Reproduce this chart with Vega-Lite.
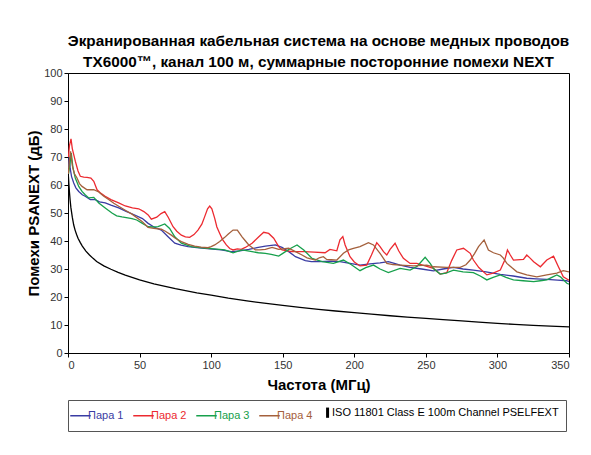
{
  "$schema": "https://vega.github.io/schema/vega-lite/v6.json",
  "width": 501,
  "height": 280,
  "autosize": {"type": "none"},
  "padding": {"left": 68, "top": 73, "right": 22, "bottom": 102},
  "background": "#ffffff",
  "title": {
    "text": ["Экранированная кабельная система на основе медных проводов", "TX6000™, канал 100 м, суммарные посторонние помехи NEXT"],
    "fontSize": 15.3, "fontWeight": "bold", "font": "Liberation Sans", "lineHeight": 21, "offset": -3, "anchor": "middle", "color": "#000"
  },
  "config": {
    "view": {"stroke": "#000", "strokeWidth": 1},
    "font": "Liberation Sans",
    "axis": {"grid": false, "tickSize": 4, "labelFontSize": 11, "labelColor": "#333", "domainColor": "#000", "tickColor": "#000", "titleFontSize": 15, "titleFontWeight": "bold", "titleColor": "#000", "labelFont": "Liberation Sans", "titleFont": "Liberation Sans"}
  },
  "data": {"values": [
    {"s":"Пара 1","f":0.3,"v":66},{"s":"Пара 1","f":0.8,"v":70},{"s":"Пара 1","f":1.5,"v":66},{"s":"Пара 1","f":2.5,"v":63},{"s":"Пара 1","f":4,"v":60.7},{"s":"Пара 1","f":5.5,"v":59},{"s":"Пара 1","f":7.5,"v":57.7},{"s":"Пара 1","f":10,"v":56.5},{"s":"Пара 1","f":12,"v":56},{"s":"Пара 1","f":15.6,"v":54.8},{"s":"Пара 1","f":19,"v":54.8},{"s":"Пара 1","f":22,"v":54},{"s":"Пара 1","f":26,"v":53.6},{"s":"Пара 1","f":30,"v":52.8},{"s":"Пара 1","f":35.4,"v":51.8},{"s":"Пара 1","f":41,"v":50.5},{"s":"Пара 1","f":47,"v":49.2},{"s":"Пара 1","f":52,"v":48},{"s":"Пара 1","f":56,"v":46.3},{"s":"Пара 1","f":60,"v":45},{"s":"Пара 1","f":65.2,"v":43.9},{"s":"Пара 1","f":69.9,"v":41.5},{"s":"Пара 1","f":74.6,"v":39.2},{"s":"Пара 1","f":79,"v":38.5},{"s":"Пара 1","f":83.9,"v":38},{"s":"Пара 1","f":90,"v":37.6},{"s":"Пара 1","f":95.5,"v":37.4},{"s":"Пара 1","f":101,"v":37.1},{"s":"Пара 1","f":107,"v":36.8},{"s":"Пара 1","f":114,"v":36.2},{"s":"Пара 1","f":120,"v":36.5},{"s":"Пара 1","f":126.3,"v":37},{"s":"Пара 1","f":132,"v":37.6},{"s":"Пара 1","f":137.9,"v":38.2},{"s":"Пара 1","f":144.9,"v":38.6},{"s":"Пара 1","f":149.5,"v":37.7},{"s":"Пара 1","f":154.2,"v":36.2},{"s":"Пара 1","f":158.9,"v":34.4},{"s":"Пара 1","f":165.8,"v":33},{"s":"Пара 1","f":170,"v":32.6},{"s":"Пара 1","f":176,"v":32.6},{"s":"Пара 1","f":183,"v":32.8},{"s":"Пара 1","f":190,"v":32.6},{"s":"Пара 1","f":197,"v":32},{"s":"Пара 1","f":204,"v":31.4},{"s":"Пара 1","f":211,"v":31.8},{"s":"Пара 1","f":218,"v":32.2},{"s":"Пара 1","f":223.8,"v":32.6},{"s":"Пара 1","f":228,"v":32},{"s":"Пара 1","f":232,"v":31.4},{"s":"Пара 1","f":239,"v":30.6},{"s":"Пара 1","f":247,"v":30},{"s":"Пара 1","f":255.3,"v":29.3},{"s":"Пара 1","f":262,"v":30},{"s":"Пара 1","f":269.3,"v":30.6},{"s":"Пара 1","f":276,"v":30},{"s":"Пара 1","f":283.2,"v":29.6},{"s":"Пара 1","f":292,"v":29},{"s":"Пара 1","f":302,"v":28.1},{"s":"Пара 1","f":311,"v":27.5},{"s":"Пара 1","f":320.5,"v":26.7},{"s":"Пара 1","f":327,"v":26.5},{"s":"Пара 1","f":334.5,"v":26.3},{"s":"Пара 1","f":342,"v":26},{"s":"Пара 1","f":348.5,"v":25.8},{"s":"Пара 1","f":350,"v":25.5},

    {"s":"Пара 2","f":0.3,"v":70},{"s":"Пара 2","f":1,"v":74},{"s":"Пара 2","f":2.1,"v":76.5},{"s":"Пара 2","f":3,"v":73},{"s":"Пара 2","f":5.1,"v":68.5},{"s":"Пара 2","f":7,"v":65},{"s":"Пара 2","f":8.6,"v":63.1},{"s":"Пара 2","f":11,"v":62.8},{"s":"Пара 2","f":13.3,"v":62.7},{"s":"Пара 2","f":16,"v":62.5},{"s":"Пара 2","f":18,"v":61.3},{"s":"Пара 2","f":20.3,"v":58.3},{"s":"Пара 2","f":23,"v":57},{"s":"Пара 2","f":26,"v":56},{"s":"Пара 2","f":30,"v":54.8},{"s":"Пара 2","f":35.4,"v":53.6},{"s":"Пара 2","f":40,"v":52.5},{"s":"Пара 2","f":45,"v":51.8},{"s":"Пара 2","f":49.4,"v":51.5},{"s":"Пара 2","f":53,"v":50.5},{"s":"Пара 2","f":56,"v":49.3},{"s":"Пара 2","f":58.2,"v":47.8},{"s":"Пара 2","f":62,"v":48.5},{"s":"Пара 2","f":65,"v":49.8},{"s":"Пара 2","f":67.6,"v":50.5},{"s":"Пара 2","f":70,"v":48.5},{"s":"Пара 2","f":73.4,"v":45.1},{"s":"Пара 2","f":76,"v":43.5},{"s":"Пара 2","f":79.2,"v":42.1},{"s":"Пара 2","f":82,"v":41.5},{"s":"Пара 2","f":85,"v":41.3},{"s":"Пара 2","f":88,"v":42.3},{"s":"Пара 2","f":90.8,"v":43.9},{"s":"Пара 2","f":93.5,"v":46},{"s":"Пара 2","f":95.5,"v":48.7},{"s":"Пара 2","f":97.5,"v":51.5},{"s":"Пара 2","f":99,"v":52.5},{"s":"Пара 2","f":100.5,"v":51.5},{"s":"Пара 2","f":102.5,"v":48.1},{"s":"Пара 2","f":104,"v":45},{"s":"Пара 2","f":106,"v":42.7},{"s":"Пара 2","f":108,"v":40.5},{"s":"Пара 2","f":110.6,"v":38.6},{"s":"Пара 2","f":113,"v":37.3},{"s":"Пара 2","f":115.3,"v":36.8},{"s":"Пара 2","f":118.3,"v":37.2},{"s":"Пара 2","f":121,"v":37},{"s":"Пара 2","f":123.9,"v":37.7},{"s":"Пара 2","f":128.6,"v":39.2},{"s":"Пара 2","f":133.3,"v":41.5},{"s":"Пара 2","f":136.7,"v":43.1},{"s":"Пара 2","f":140.2,"v":42.7},{"s":"Пара 2","f":143.7,"v":41},{"s":"Пара 2","f":147.2,"v":38},{"s":"Пара 2","f":149.5,"v":36.8},{"s":"Пара 2","f":156.5,"v":36.2},{"s":"Пара 2","f":165,"v":36.2},{"s":"Пара 2","f":172,"v":36},{"s":"Пара 2","f":179.6,"v":35.8},{"s":"Пара 2","f":183,"v":37},{"s":"Пара 2","f":187.8,"v":36.5},{"s":"Пара 2","f":190,"v":40.4},{"s":"Пара 2","f":192,"v":41.6},{"s":"Пара 2","f":193.6,"v":38.6},{"s":"Пара 2","f":197,"v":34.4},{"s":"Пара 2","f":200,"v":32.5},{"s":"Пара 2","f":204,"v":31.1},{"s":"Пара 2","f":208.7,"v":31.4},{"s":"Пара 2","f":212,"v":35},{"s":"Пара 2","f":215.7,"v":39.4},{"s":"Пара 2","f":218,"v":38},{"s":"Пара 2","f":220.4,"v":36.2},{"s":"Пара 2","f":222.7,"v":35},{"s":"Пара 2","f":225,"v":37},{"s":"Пара 2","f":228.5,"v":39.2},{"s":"Пара 2","f":231,"v":36.5},{"s":"Пара 2","f":234.3,"v":33.8},{"s":"Пара 2","f":239,"v":32},{"s":"Пара 2","f":243.7,"v":32},{"s":"Пара 2","f":249.5,"v":31.1},{"s":"Пара 2","f":255.3,"v":30.2},{"s":"Пара 2","f":260,"v":28.2},{"s":"Пара 2","f":264.6,"v":28.7},{"s":"Пара 2","f":268,"v":33},{"s":"Пара 2","f":271.6,"v":36.8},{"s":"Пара 2","f":276.3,"v":37.4},{"s":"Пара 2","f":281,"v":35.6},{"s":"Пара 2","f":283.2,"v":33.2},{"s":"Пара 2","f":287,"v":30.5},{"s":"Пара 2","f":292.6,"v":27.9},{"s":"Пара 2","f":297,"v":28.5},{"s":"Пара 2","f":302,"v":29.6},{"s":"Пара 2","f":305,"v":33},{"s":"Пара 2","f":307,"v":36.8},{"s":"Пара 2","f":309,"v":35},{"s":"Пара 2","f":311.2,"v":33.2},{"s":"Пара 2","f":318.2,"v":33.4},{"s":"Пара 2","f":320.5,"v":35},{"s":"Пара 2","f":323,"v":33.8},{"s":"Пара 2","f":325.3,"v":32.6},{"s":"Пара 2","f":330,"v":30.8},{"s":"Пара 2","f":334.5,"v":33.2},{"s":"Пара 2","f":339.2,"v":34.6},{"s":"Пара 2","f":342.6,"v":30.8},{"s":"Пара 2","f":346,"v":27.2},{"s":"Пара 2","f":350,"v":26},

    {"s":"Пара 3","f":0.3,"v":64},{"s":"Пара 3","f":1,"v":66},{"s":"Пара 3","f":2.3,"v":71.4},{"s":"Пара 3","f":3.5,"v":66},{"s":"Пара 3","f":5.1,"v":62.5},{"s":"Пара 3","f":7.5,"v":59.5},{"s":"Пара 3","f":9.8,"v":57.7},{"s":"Пара 3","f":12,"v":56.5},{"s":"Пара 3","f":14.5,"v":55.4},{"s":"Пара 3","f":18,"v":55.6},{"s":"Пара 3","f":21.5,"v":53.6},{"s":"Пара 3","f":26,"v":51.8},{"s":"Пара 3","f":30.7,"v":50},{"s":"Пара 3","f":34,"v":49},{"s":"Пара 3","f":37.7,"v":48.6},{"s":"Пара 3","f":44.7,"v":48},{"s":"Пара 3","f":48,"v":47.5},{"s":"Пара 3","f":51.7,"v":46.4},{"s":"Пара 3","f":55.9,"v":45.1},{"s":"Пара 3","f":59,"v":45},{"s":"Пара 3","f":62.9,"v":45.1},{"s":"Пара 3","f":67.6,"v":46.1},{"s":"Пара 3","f":71,"v":44.5},{"s":"Пара 3","f":74.6,"v":41.5},{"s":"Пара 3","f":79.2,"v":39.2},{"s":"Пара 3","f":86.2,"v":38},{"s":"Пара 3","f":92,"v":37.6},{"s":"Пара 3","f":97.8,"v":37.4},{"s":"Пара 3","f":104,"v":37.1},{"s":"Пара 3","f":109.5,"v":36.8},{"s":"Пара 3","f":115.3,"v":35.8},{"s":"Пара 3","f":121.6,"v":36.8},{"s":"Пара 3","f":128.6,"v":36.2},{"s":"Пара 3","f":133,"v":35.8},{"s":"Пара 3","f":137.9,"v":35.6},{"s":"Пара 3","f":142,"v":35.2},{"s":"Пара 3","f":147.2,"v":34.6},{"s":"Пара 3","f":151.9,"v":36.2},{"s":"Пара 3","f":156,"v":37.5},{"s":"Пара 3","f":160,"v":38.6},{"s":"Пара 3","f":164.7,"v":36.8},{"s":"Пара 3","f":170.5,"v":33.8},{"s":"Пара 3","f":177.5,"v":32.6},{"s":"Пара 3","f":185.4,"v":32},{"s":"Пара 3","f":192.4,"v":33.2},{"s":"Пара 3","f":198,"v":31.5},{"s":"Пара 3","f":204,"v":29.4},{"s":"Пара 3","f":208,"v":30.5},{"s":"Пара 3","f":213.4,"v":31.4},{"s":"Пара 3","f":218,"v":30},{"s":"Пара 3","f":223.8,"v":28.7},{"s":"Пара 3","f":232,"v":30.2},{"s":"Пара 3","f":239,"v":29.6},{"s":"Пара 3","f":244,"v":31},{"s":"Пара 3","f":249.5,"v":34.2},{"s":"Пара 3","f":253,"v":32},{"s":"Пара 3","f":255.3,"v":30.2},{"s":"Пара 3","f":260,"v":28.2},{"s":"Пара 3","f":264,"v":28.5},{"s":"Пара 3","f":269.3,"v":29.6},{"s":"Пара 3","f":276,"v":29},{"s":"Пара 3","f":283.2,"v":28.7},{"s":"Пара 3","f":288,"v":27.5},{"s":"Пара 3","f":292.6,"v":26.1},{"s":"Пара 3","f":297,"v":27},{"s":"Пара 3","f":302,"v":27.9},{"s":"Пара 3","f":306,"v":27},{"s":"Пара 3","f":311.2,"v":26.1},{"s":"Пара 3","f":318,"v":25.8},{"s":"Пара 3","f":325.3,"v":25.5},{"s":"Пара 3","f":330,"v":25.8},{"s":"Пара 3","f":334.5,"v":26.1},{"s":"Пара 3","f":338,"v":27},{"s":"Пара 3","f":341.5,"v":27.9},{"s":"Пара 3","f":344,"v":27.2},{"s":"Пара 3","f":348.5,"v":24.9},{"s":"Пара 3","f":350,"v":24.6},

    {"s":"Пара 4","f":0.3,"v":64},{"s":"Пара 4","f":0.9,"v":68.5},{"s":"Пара 4","f":1.8,"v":72},{"s":"Пара 4","f":3,"v":67},{"s":"Пара 4","f":4.5,"v":64},{"s":"Пара 4","f":6.3,"v":62.5},{"s":"Пара 4","f":8,"v":60.5},{"s":"Пара 4","f":9.8,"v":59.5},{"s":"Пара 4","f":13.3,"v":58.3},{"s":"Пара 4","f":18,"v":58.3},{"s":"Пара 4","f":21.5,"v":57.5},{"s":"Пара 4","f":25,"v":56},{"s":"Пара 4","f":28.4,"v":54.8},{"s":"Пара 4","f":32,"v":53.5},{"s":"Пара 4","f":35.4,"v":52.4},{"s":"Пара 4","f":40,"v":51},{"s":"Пара 4","f":44.7,"v":49.6},{"s":"Пара 4","f":51.7,"v":47},{"s":"Пара 4","f":55.9,"v":44.9},{"s":"Пара 4","f":60,"v":44.5},{"s":"Пара 4","f":65.2,"v":44.2},{"s":"Пара 4","f":68,"v":43.5},{"s":"Пара 4","f":72.2,"v":42.1},{"s":"Пара 4","f":75,"v":41},{"s":"Пара 4","f":79.2,"v":39.8},{"s":"Пара 4","f":84,"v":38.8},{"s":"Пара 4","f":88.5,"v":38.2},{"s":"Пара 4","f":93,"v":37.8},{"s":"Пара 4","f":97.8,"v":37.6},{"s":"Пара 4","f":100,"v":38},{"s":"Пара 4","f":102.5,"v":38.6},{"s":"Пара 4","f":106,"v":39.8},{"s":"Пара 4","f":109.5,"v":41.3},{"s":"Пара 4","f":112,"v":42.5},{"s":"Пара 4","f":115.3,"v":43.9},{"s":"Пара 4","f":118.3,"v":43.9},{"s":"Пара 4","f":121.6,"v":41.5},{"s":"Пара 4","f":124,"v":40},{"s":"Пара 4","f":126.3,"v":38.6},{"s":"Пара 4","f":130.9,"v":36.8},{"s":"Пара 4","f":134,"v":36.8},{"s":"Пара 4","f":137.9,"v":37},{"s":"Пара 4","f":142.6,"v":37.7},{"s":"Пара 4","f":147.2,"v":37},{"s":"Пара 4","f":154.2,"v":37.4},{"s":"Пара 4","f":158.9,"v":36.2},{"s":"Пара 4","f":163.5,"v":35},{"s":"Пара 4","f":167,"v":34},{"s":"Пара 4","f":172.8,"v":33.2},{"s":"Пара 4","f":175.5,"v":34},{"s":"Пара 4","f":178.4,"v":34.4},{"s":"Пара 4","f":180.7,"v":33.4},{"s":"Пара 4","f":184,"v":33.3},{"s":"Пара 4","f":187.8,"v":33.2},{"s":"Пара 4","f":192.4,"v":35.6},{"s":"Пара 4","f":196,"v":36.8},{"s":"Пара 4","f":199.4,"v":37.4},{"s":"Пара 4","f":204,"v":38},{"s":"Пара 4","f":209.9,"v":39.4},{"s":"Пара 4","f":213.4,"v":38.6},{"s":"Пара 4","f":218,"v":35.6},{"s":"Пара 4","f":222.7,"v":32},{"s":"Пара 4","f":227,"v":31.6},{"s":"Пара 4","f":232,"v":31.4},{"s":"Пара 4","f":241.3,"v":31.1},{"s":"Пара 4","f":250.7,"v":31.4},{"s":"Пара 4","f":255.3,"v":30.8},{"s":"Пара 4","f":264.6,"v":30.6},{"s":"Пара 4","f":274,"v":30.6},{"s":"Пара 4","f":278,"v":31.5},{"s":"Пара 4","f":281,"v":33.2},{"s":"Пара 4","f":284,"v":35.5},{"s":"Пара 4","f":286.8,"v":38},{"s":"Пара 4","f":290.7,"v":40.4},{"s":"Пара 4","f":293.7,"v":36.8},{"s":"Пара 4","f":297.2,"v":35.8},{"s":"Пара 4","f":302,"v":35},{"s":"Пара 4","f":304,"v":34},{"s":"Пара 4","f":306.6,"v":32},{"s":"Пара 4","f":310,"v":30.5},{"s":"Пара 4","f":313.6,"v":29},{"s":"Пара 4","f":320.5,"v":27.9},{"s":"Пара 4","f":327.5,"v":27.2},{"s":"Пара 4","f":334.5,"v":27.9},{"s":"Пара 4","f":341.5,"v":28.5},{"s":"Пара 4","f":346,"v":29.4},{"s":"Пара 4","f":350,"v":29},

    {"s":"ISO 11801 Class E 100m Channel PSELFEXT","f":0.3,"v":63},{"s":"ISO 11801 Class E 100m Channel PSELFEXT","f":0.6,"v":60.5},{"s":"ISO 11801 Class E 100m Channel PSELFEXT","f":1,"v":57.5},{"s":"ISO 11801 Class E 100m Channel PSELFEXT","f":1.5,"v":54.5},{"s":"ISO 11801 Class E 100m Channel PSELFEXT","f":2,"v":52},{"s":"ISO 11801 Class E 100m Channel PSELFEXT","f":3,"v":48.5},{"s":"ISO 11801 Class E 100m Channel PSELFEXT","f":4,"v":45.7},{"s":"ISO 11801 Class E 100m Channel PSELFEXT","f":5,"v":43.8},{"s":"ISO 11801 Class E 100m Channel PSELFEXT","f":6,"v":42.3},{"s":"ISO 11801 Class E 100m Channel PSELFEXT","f":7,"v":41},{"s":"ISO 11801 Class E 100m Channel PSELFEXT","f":8.5,"v":39.5},{"s":"ISO 11801 Class E 100m Channel PSELFEXT","f":10,"v":38.2},{"s":"ISO 11801 Class E 100m Channel PSELFEXT","f":12.5,"v":36.4},{"s":"ISO 11801 Class E 100m Channel PSELFEXT","f":15,"v":35},{"s":"ISO 11801 Class E 100m Channel PSELFEXT","f":17.5,"v":33.8},{"s":"ISO 11801 Class E 100m Channel PSELFEXT","f":20,"v":32.7},{"s":"ISO 11801 Class E 100m Channel PSELFEXT","f":25,"v":31.1},{"s":"ISO 11801 Class E 100m Channel PSELFEXT","f":30,"v":29.9},{"s":"ISO 11801 Class E 100m Channel PSELFEXT","f":35,"v":28.8},{"s":"ISO 11801 Class E 100m Channel PSELFEXT","f":40,"v":27.8},{"s":"ISO 11801 Class E 100m Channel PSELFEXT","f":50,"v":26.1},{"s":"ISO 11801 Class E 100m Channel PSELFEXT","f":60,"v":24.7},{"s":"ISO 11801 Class E 100m Channel PSELFEXT","f":75,"v":23},{"s":"ISO 11801 Class E 100m Channel PSELFEXT","f":90,"v":21.5},{"s":"ISO 11801 Class E 100m Channel PSELFEXT","f":100,"v":20.7},{"s":"ISO 11801 Class E 100m Channel PSELFEXT","f":112,"v":19.6},{"s":"ISO 11801 Class E 100m Channel PSELFEXT","f":125,"v":18.6},{"s":"ISO 11801 Class E 100m Channel PSELFEXT","f":137,"v":17.8},{"s":"ISO 11801 Class E 100m Channel PSELFEXT","f":150,"v":17},{"s":"ISO 11801 Class E 100m Channel PSELFEXT","f":162,"v":16.3},{"s":"ISO 11801 Class E 100m Channel PSELFEXT","f":175,"v":15.6},{"s":"ISO 11801 Class E 100m Channel PSELFEXT","f":187,"v":15},{"s":"ISO 11801 Class E 100m Channel PSELFEXT","f":200,"v":14.4},{"s":"ISO 11801 Class E 100m Channel PSELFEXT","f":212,"v":13.9},{"s":"ISO 11801 Class E 100m Channel PSELFEXT","f":225,"v":13.3},{"s":"ISO 11801 Class E 100m Channel PSELFEXT","f":237,"v":12.8},{"s":"ISO 11801 Class E 100m Channel PSELFEXT","f":250,"v":12.4},{"s":"ISO 11801 Class E 100m Channel PSELFEXT","f":262,"v":11.9},{"s":"ISO 11801 Class E 100m Channel PSELFEXT","f":275,"v":11.5},{"s":"ISO 11801 Class E 100m Channel PSELFEXT","f":287,"v":11},{"s":"ISO 11801 Class E 100m Channel PSELFEXT","f":300,"v":10.6},{"s":"ISO 11801 Class E 100m Channel PSELFEXT","f":312,"v":10.2},{"s":"ISO 11801 Class E 100m Channel PSELFEXT","f":325,"v":9.9},{"s":"ISO 11801 Class E 100m Channel PSELFEXT","f":337,"v":9.6},{"s":"ISO 11801 Class E 100m Channel PSELFEXT","f":350,"v":9.3}
  ]},
  "mark": {"type": "line", "strokeWidth": 1.3, "clip": true},
  "encoding": {
    "x": {"field": "f", "type": "quantitative", "scale": {"domain": [0, 350], "nice": false, "zero": false},
      "axis": {"values": [0, 50, 100, 150, 200, 250, 300, 350], "title": "Частота (МГц)", "titlePadding": 7, "labelPadding": 2}},
    "y": {"field": "v", "type": "quantitative", "scale": {"domain": [0, 100], "nice": false},
      "axis": {"values": [0, 10, 20, 30, 40, 50, 60, 70, 80, 90, 100], "title": "Помехи PSANEXT (дБ)", "titlePadding": 2, "labelPadding": 2}},
    "color": {"field": "s", "type": "nominal",
      "scale": {"domain": ["Пара 1", "Пара 2", "Пара 3", "Пара 4", "ISO 11801 Class E 100m Channel PSELFEXT"], "range": ["#3a3ca3", "#ec2a30", "#17a04c", "#a4603c", "#000000"]},
      "legend": {
        "orient": "none", "legendX": 0, "legendY": 327, "direction": "horizontal", "title": null,
        "strokeColor": "#555", "padding": 7, "symbolType": "stroke", "symbolSize": 420, "symbolStrokeWidth": 1.5,
        "labelFontSize": 11, "labelFont": "Liberation Sans", "labelLimit": 400, "columnPadding": 6, "labelOffset": 2,
        "encode": {
          "labels": {"update": {"fill": {"scale": "color", "field": "value"}}},
          "symbols": {"update": {
            "shape": {"signal": "datum.value === 'ISO 11801 Class E 100m Channel PSELFEXT' ? 'M0.3,-0.5L0.3,0.5' : 'stroke'"},
            "strokeWidth": {"signal": "datum.value === 'ISO 11801 Class E 100m Channel PSELFEXT' ? 3 : 1.5"}
          }}
        }
      }
    }
  }
}
